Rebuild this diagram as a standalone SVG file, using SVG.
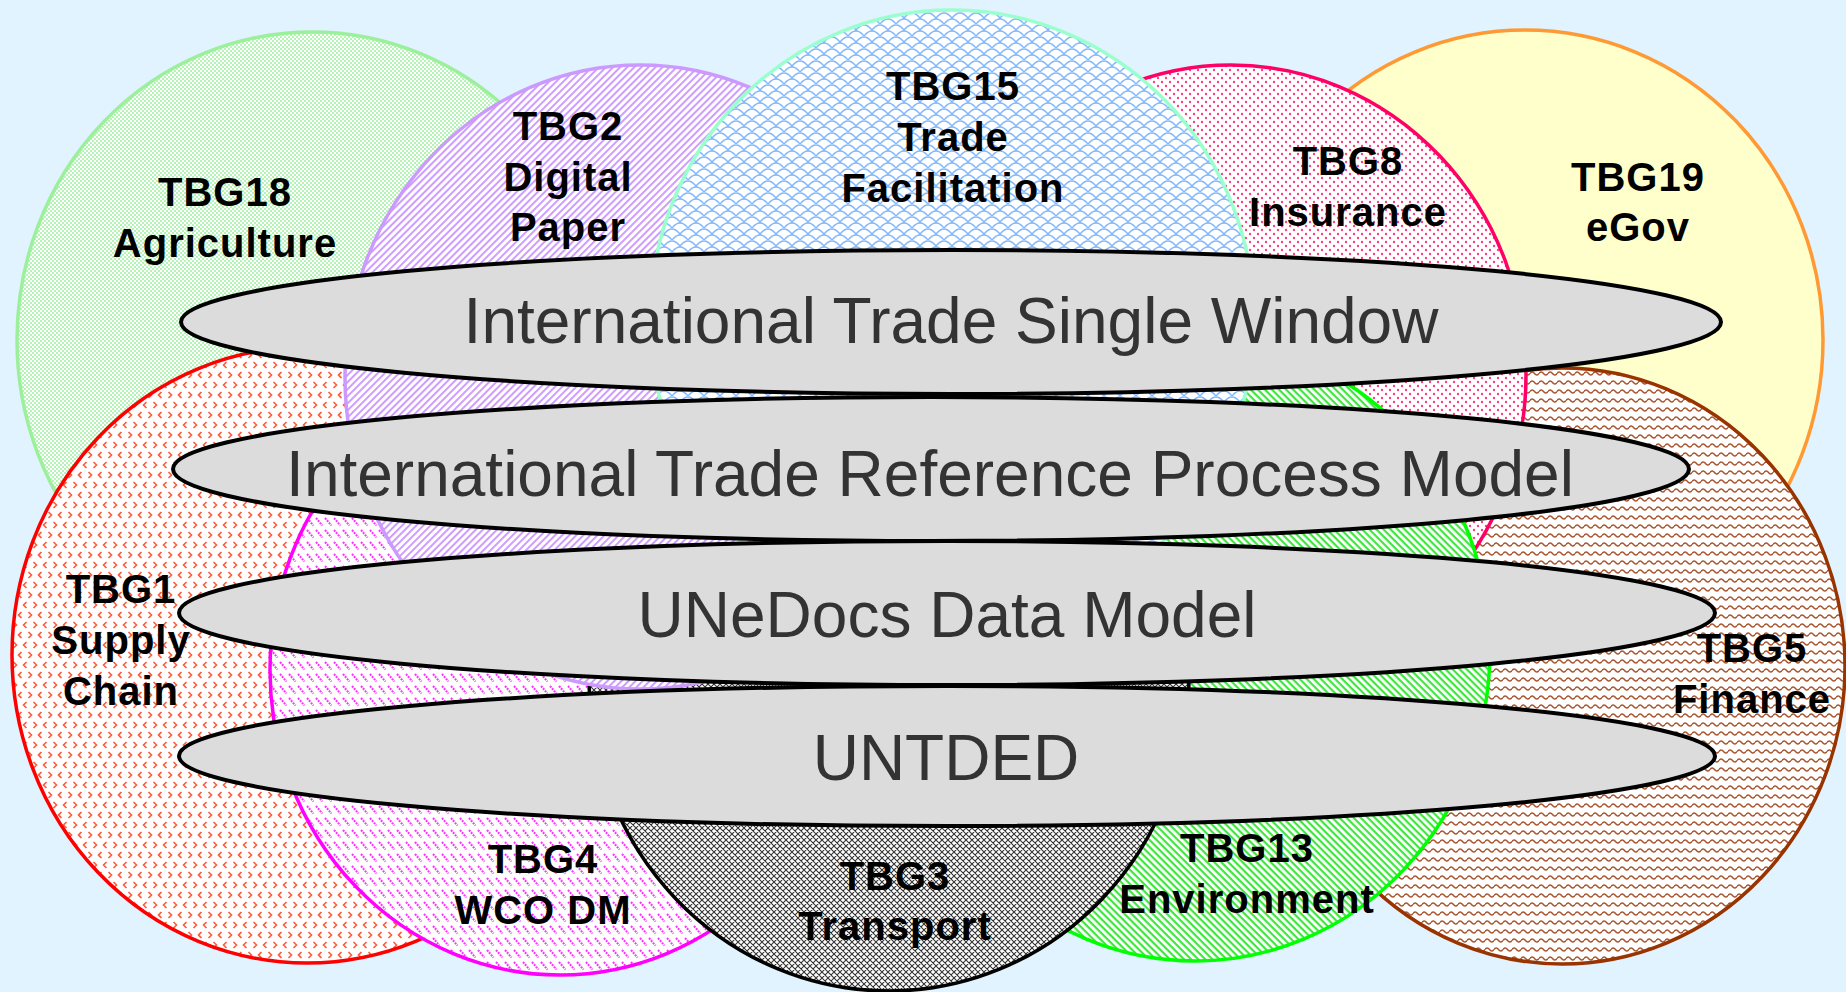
<svg xmlns="http://www.w3.org/2000/svg" width="1846" height="992" viewBox="0 0 1846 992">
<defs>
<style>
.c{stroke-width:3.5}
.lbl{font-family:"Liberation Sans",Arial,Helvetica,sans-serif;font-weight:bold;font-size:40px;letter-spacing:1px;fill:#000;text-anchor:middle}
.big{fill:#dcdcdc;stroke:#000;stroke-width:4}
.bt{font-family:"Liberation Sans",Arial,Helvetica,sans-serif;font-size:64px;fill:#333;text-anchor:middle}
</style>
<pattern id="pChk" width="4" height="4" patternUnits="userSpaceOnUse"><rect width="4" height="4" fill="#fff"/><rect width="2" height="2" fill="#b6f3b6"/><rect x="2" y="2" width="2" height="2" fill="#b6f3b6"/></pattern>
<pattern id="pPur" width="5" height="5" patternUnits="userSpaceOnUse" patternTransform="rotate(-45)"><rect width="5" height="5" fill="#fff"/><rect width="5" height="2" fill="#cf9cff"/></pattern>
<pattern id="pGrn" width="5" height="5" patternUnits="userSpaceOnUse" patternTransform="rotate(45)"><rect width="5" height="5" fill="#fff"/><rect width="5" height="2.2" fill="#3ee63e"/></pattern>
<pattern id="pDot" width="8" height="8" patternUnits="userSpaceOnUse"><rect width="8" height="8" fill="#fff"/><circle cx="2" cy="2" r="1.2" fill="#ff3d7f"/><circle cx="6" cy="6" r="1.2" fill="#ff3d7f"/></pattern>
<pattern id="pWave" width="9" height="9" patternUnits="userSpaceOnUse"><rect width="9" height="9" fill="#fff"/><path d="M0,4.5 Q2.25,1.5 4.5,4.5 T9,4.5" fill="none" stroke="#a8552e" stroke-width="1.6"/></pattern>
<pattern id="pChev" width="20" height="20" patternUnits="userSpaceOnUse"><rect width="20" height="20" fill="#fff"/><path d="M6.5,2 L3.5,5 L6.5,8 M13.5,2 L16.5,5 L13.5,8 M8.5,12 L11.5,15 L8.5,18 M1.5,12 L-1.5,15 L1.5,18 M21.5,12 L18.5,15 L21.5,18" fill="none" stroke="#ff5a3a" stroke-width="1.6"/></pattern>
<pattern id="pMag" width="9" height="12" patternUnits="userSpaceOnUse"><rect width="9" height="12" fill="#fff"/><path d="M1,2 L7.5,9.5" fill="none" stroke="#ff33ff" stroke-width="2" stroke-dasharray="2 1"/></pattern>
<pattern id="pScale" width="16" height="12" patternUnits="userSpaceOnUse"><rect width="16" height="12" fill="#fff"/><path d="M0,12 Q8,2 16,12 M-8,6 Q0,-4 8,6 M8,6 Q16,-4 24,6" fill="none" stroke="#7fb8ff" stroke-width="1.4"/></pattern>
<pattern id="pX" width="6" height="6" patternUnits="userSpaceOnUse"><rect width="6" height="6" fill="#fff"/><path d="M0,0 L6,6 M6,0 L0,6 M-1,5 L1,7 M5,-1 L7,1 M-1,1 L1,-1 M5,7 L7,5" fill="none" stroke="#333" stroke-width="1.1"/></pattern>
</defs>
<rect width="1846" height="992" fill="#e1f3fe"/>

<g id="tbg19"><ellipse class="c" cx="1525" cy="340" rx="298" ry="310" fill="#ffffcc" stroke="#ff9933"/>
<text class="lbl"><tspan x="1638" y="191">TBG19</tspan><tspan x="1638" y="241">eGov</tspan></text></g>

<g id="tbg18"><ellipse class="c" cx="312" cy="340" rx="295" ry="308" fill="url(#pChk)" stroke="#9cf09c"/>
<text class="lbl"><tspan x="225" y="206">TBG18</tspan><tspan x="225" y="257">Agriculture</tspan></text></g>

<g id="tbg5"><ellipse class="c" cx="1562" cy="666" rx="283" ry="298" fill="url(#pWave)" stroke="#993300"/>
<text class="lbl"><tspan x="1752" y="662">TBG5</tspan><tspan x="1752" y="713">Finance</tspan></text></g>

<g id="tbg8"><ellipse class="c" cx="1231" cy="375" rx="295" ry="310" fill="url(#pDot)" stroke="#ff0066"/>
<text class="lbl"><tspan x="1348" y="175">TBG8</tspan><tspan x="1348" y="226">Insurance</tspan></text></g>

<g id="tbg13"><ellipse class="c" cx="1195" cy="650" rx="295" ry="311" fill="url(#pGrn)" stroke="#00ff00"/>
<text class="lbl"><tspan x="1247" y="862">TBG13</tspan><tspan x="1247" y="913">Environment</tspan></text></g>

<g id="tbg1"><ellipse class="c" cx="307" cy="655" rx="295" ry="308" fill="url(#pChev)" stroke="#ff0000"/>
<text class="lbl"><tspan x="121" y="603">TBG1</tspan><tspan x="121" y="654">Supply</tspan><tspan x="121" y="705">Chain</tspan></text></g>

<g id="tbg4"><ellipse class="c" cx="560" cy="670" rx="290" ry="305" fill="url(#pMag)" stroke="#ff00ff"/>
<text class="lbl"><tspan x="543" y="873">TBG4</tspan><tspan x="543" y="924">WCO DM</tspan></text></g>

<g id="tbg3"><ellipse class="c" cx="889" cy="680" rx="300" ry="311" fill="url(#pX)" stroke="#000"/>
<text class="lbl"><tspan x="895" y="890">TBG3</tspan><tspan x="895" y="940">Transport</tspan></text></g>

<g id="tbg2"><ellipse class="c" cx="640" cy="377" rx="295" ry="312" fill="url(#pPur)" stroke="#cc99ff"/>
<text class="lbl"><tspan x="568" y="140">TBG2</tspan><tspan x="568" y="191">Digital</tspan><tspan x="568" y="241">Paper</tspan></text></g>

<g id="tbg15"><ellipse class="c" cx="952" cy="320" rx="302" ry="310" fill="url(#pScale)" stroke="#99ffcc"/>
<text class="lbl"><tspan x="953" y="100">TBG15</tspan><tspan x="953" y="151">Trade</tspan><tspan x="953" y="202">Facilitation</tspan></text></g>

<g id="itsw"><ellipse class="big" cx="951" cy="322" rx="770" ry="72"/>
<text class="bt" x="951" y="343">International Trade Single Window</text></g>

<g id="itrpm"><ellipse class="big" cx="931" cy="469" rx="758" ry="72"/>
<text class="bt" x="930" y="496">International Trade Reference Process Model</text></g>

<g id="unedocs"><ellipse class="big" cx="947" cy="613" rx="768" ry="72"/>
<text class="bt" x="947" y="637">UNeDocs Data Model</text></g>

<g id="untded"><ellipse class="big" cx="947" cy="756" rx="768" ry="70"/>
<text class="bt" x="946" y="780">UNTDED</text></g>

<g id="connectors"/>
</svg>
